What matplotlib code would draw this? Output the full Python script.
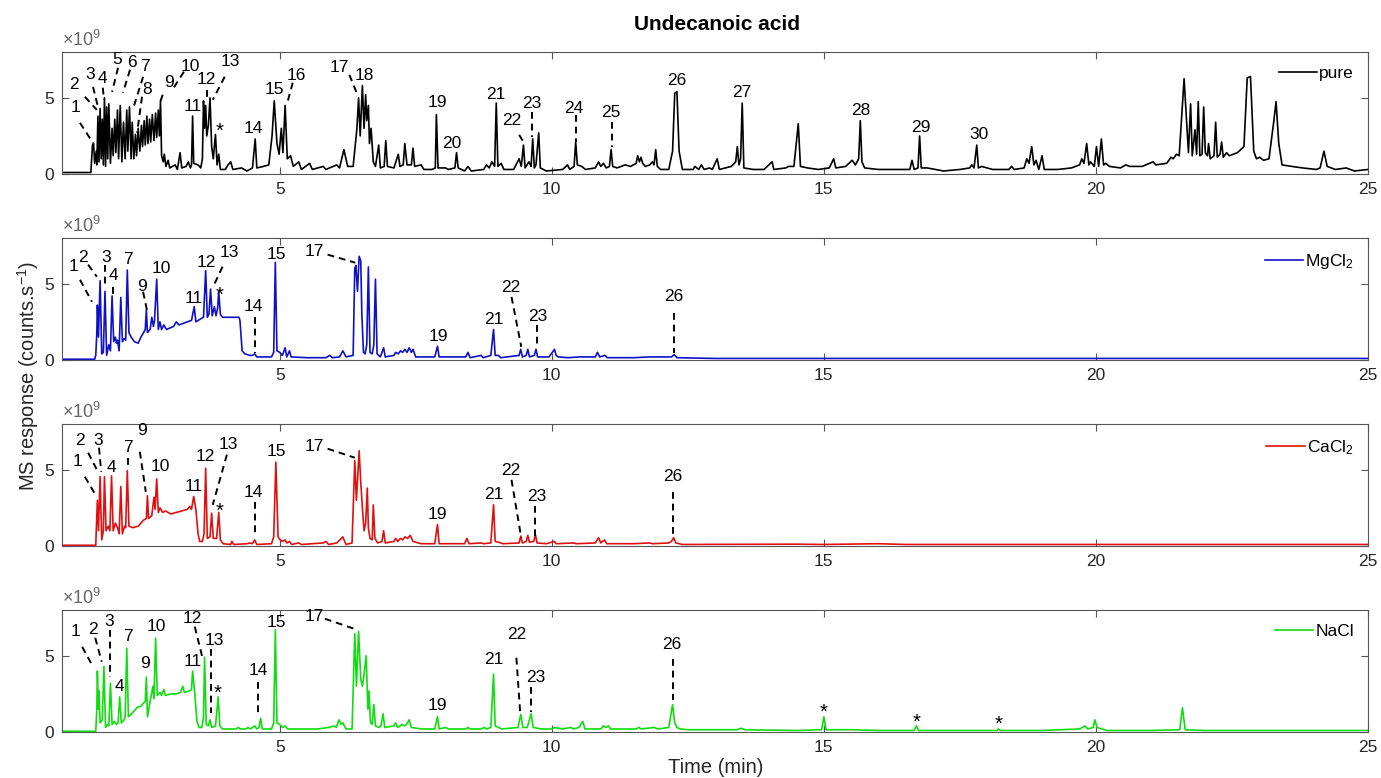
import numpy as np
import matplotlib
matplotlib.use("Agg")
import matplotlib.pyplot as plt

plt.rcParams['font.family'] = ['Liberation Sans', 'DejaVu Sans']
plt.rcParams['mathtext.fontset'] = 'custom'
plt.rcParams['mathtext.rm'] = 'Liberation Sans'
plt.rcParams['mathtext.it'] = 'Liberation Sans:italic'

# chromatogram traces, (time in min, response in 1e9 counts/s)
pure = [
    (1.00, 0.10), (1.53, 0.10), (1.56, 1.9), (1.58, 2.0), (1.60, 0.7), (1.63, 1.5), (1.64, 0.6),
    (1.66, 3.8), (1.68, 0.8), (1.70, 4.3), (1.72, 1.0), (1.74, 3.6), (1.76, 0.6), (1.78, 5.0),
    (1.80, 0.5), (1.82, 4.4), (1.84, 1.0), (1.86, 4.6), (1.89, 0.7), (1.92, 3.0), (1.94, 1.2),
    (1.97, 3.6), (1.99, 1.4), (2.02, 4.2), (2.04, 1.0), (2.07, 4.5), (2.10, 0.8), (2.13, 3.4),
    (2.16, 1.0), (2.19, 4.2), (2.21, 1.5), (2.24, 4.4), (2.27, 1.0), (2.29, 3.4), (2.32, 1.0),
    (2.35, 2.6), (2.37, 1.2), (2.40, 3.0), (2.43, 1.5), (2.46, 3.2), (2.48, 1.8), (2.51, 3.5),
    (2.53, 1.9), (2.56, 3.8), (2.58, 2.0), (2.61, 3.6), (2.63, 2.1), (2.66, 3.9), (2.69, 2.2),
    (2.72, 4.0), (2.74, 2.4), (2.77, 4.2), (2.79, 2.5), (2.81, 4.8), (2.83, 1.2), (2.86, 0.8),
    (2.88, 1.3), (2.91, 0.5), (2.95, 0.9), (2.98, 0.4), (3.08, 0.6), (3.12, 0.3), (3.17, 1.4),
    (3.20, 0.4), (3.28, 0.5), (3.32, 0.8), (3.36, 0.4), (3.38, 0.6), (3.40, 3.8), (3.42, 0.7),
    (3.50, 0.6), (3.55, 0.4), (3.58, 1.0), (3.60, 4.8), (3.62, 3.0), (3.64, 4.5), (3.66, 2.5),
    (3.69, 3.2), (3.72, 5.0), (3.75, 1.8), (3.78, 1.0), (3.82, 2.6), (3.85, 0.6), (3.88, 1.3),
    (3.91, 0.3), (4.00, 0.3), (4.05, 0.6), (4.10, 0.8), (4.14, 0.3), (4.30, 0.4), (4.40, 0.2),
    (4.50, 0.4), (4.55, 2.3), (4.58, 0.4), (4.70, 0.5), (4.80, 0.6), (4.86, 2.5), (4.90, 4.8),
    (4.95, 2.0), (4.99, 1.3), (5.03, 3.0), (5.06, 1.4), (5.10, 4.5), (5.14, 1.0), (5.20, 1.2),
    (5.25, 0.5), (5.35, 0.8), (5.40, 0.3), (5.55, 0.7), (5.60, 0.3), (5.80, 0.5), (5.85, 0.3),
    (6.05, 0.6), (6.10, 0.4), (6.18, 1.6), (6.25, 0.5), (6.35, 0.5), (6.42, 3.0), (6.45, 5.0),
    (6.48, 2.5), (6.52, 5.8), (6.55, 3.0), (6.58, 5.2), (6.60, 3.5), (6.63, 4.5), (6.65, 2.0),
    (6.68, 3.0), (6.72, 0.8), (6.76, 0.5), (6.82, 1.9), (6.85, 0.4), (6.92, 0.5), (6.95, 2.2),
    (6.98, 0.5), (7.10, 0.4), (7.18, 1.3), (7.21, 0.5), (7.27, 0.6), (7.30, 2.0), (7.34, 0.6),
    (7.42, 0.6), (7.45, 1.7), (7.48, 0.5), (7.60, 0.6), (7.65, 0.3), (7.80, 0.3), (7.86, 0.4),
    (7.88, 3.9), (7.91, 0.4), (8.05, 0.4), (8.10, 0.3), (8.22, 0.4), (8.25, 1.4), (8.28, 0.4),
    (8.40, 0.2), (8.46, 0.5), (8.52, 0.2), (8.75, 0.3), (8.80, 0.6), (8.85, 0.4), (8.90, 0.8),
    (8.95, 0.5), (8.98, 4.65), (9.01, 0.5), (9.07, 0.7), (9.12, 0.3), (9.30, 0.3), (9.40, 1.0),
    (9.44, 0.5), (9.48, 1.9), (9.51, 0.4), (9.58, 0.8), (9.62, 0.5), (9.65, 2.3), (9.68, 0.4),
    (9.71, 0.6), (9.76, 2.7), (9.79, 0.4), (9.90, 0.2), (10.20, 0.3), (10.29, 0.6), (10.33, 0.3),
    (10.41, 0.5), (10.44, 2.1), (10.47, 0.6), (10.55, 0.5), (10.62, 0.3), (10.80, 0.4), (10.86, 0.8),
    (10.90, 0.5), (10.95, 0.7), (11.00, 0.4), (11.06, 0.5), (11.09, 1.6), (11.12, 0.5), (11.20, 0.4),
    (11.35, 0.6), (11.45, 0.5), (11.55, 0.7), (11.58, 1.2), (11.61, 0.8), (11.64, 1.1), (11.67, 0.7),
    (11.72, 0.5), (11.80, 0.6), (11.85, 0.8), (11.88, 0.6), (11.91, 1.6), (11.94, 0.5), (12.00, 0.3),
    (12.15, 0.3), (12.22, 1.5), (12.26, 5.3), (12.30, 5.4), (12.34, 1.5), (12.40, 0.3), (12.60, 0.3),
    (12.63, 0.5), (12.70, 0.3), (12.75, 0.6), (12.80, 0.3), (12.90, 0.4), (12.95, 0.3), (13.04, 1.0),
    (13.08, 0.3), (13.30, 0.5), (13.38, 0.8), (13.41, 1.8), (13.44, 0.6), (13.47, 1.0), (13.50, 4.65),
    (13.53, 0.4), (13.70, 0.3), (13.90, 0.3), (14.05, 0.8), (14.08, 0.3), (14.30, 0.4), (14.35, 0.5),
    (14.45, 0.5), (14.53, 3.3), (14.57, 0.5), (14.70, 0.4), (14.90, 0.3), (15.10, 0.4), (15.18, 1.0),
    (15.22, 0.4), (15.40, 0.5), (15.52, 0.9), (15.58, 0.6), (15.64, 1.0), (15.67, 3.5), (15.70, 0.8),
    (15.75, 0.4), (16.00, 0.3), (16.30, 0.3), (16.58, 0.3), (16.62, 0.9), (16.66, 0.3), (16.73, 0.4),
    (16.76, 2.5), (16.79, 0.4), (16.90, 0.4), (17.20, 0.2), (17.50, 0.3), (17.68, 0.4), (17.72, 0.6),
    (17.76, 0.4), (17.81, 1.9), (17.84, 0.4), (17.90, 0.5), (18.10, 0.3), (18.40, 0.3), (18.45, 0.5),
    (18.50, 0.3), (18.68, 0.4), (18.73, 1.0), (18.77, 0.7), (18.82, 1.8), (18.86, 0.6), (18.90, 0.9),
    (18.95, 0.3), (19.01, 1.2), (19.05, 0.3), (19.30, 0.3), (19.55, 0.4), (19.70, 0.6), (19.74, 1.0),
    (19.78, 0.7), (19.83, 2.0), (19.87, 0.6), (19.90, 0.8), (19.97, 0.5), (20.01, 1.8), (20.05, 0.5),
    (20.10, 2.3), (20.14, 0.6), (20.18, 0.7), (20.25, 0.5), (20.45, 0.4), (20.55, 0.6), (20.62, 0.5),
    (20.70, 0.5), (20.85, 0.5), (21.05, 0.8), (21.10, 0.6), (21.30, 0.7), (21.38, 1.1), (21.42, 1.0),
    (21.48, 1.3), (21.53, 1.2), (21.62, 6.25), (21.70, 1.4), (21.74, 4.6), (21.77, 1.2), (21.82, 2.9),
    (21.85, 1.3), (21.88, 4.75), (21.91, 1.2), (21.95, 1.3), (21.98, 4.4), (22.01, 1.4), (22.05, 1.2),
    (22.07, 2.0), (22.10, 1.0), (22.17, 1.2), (22.20, 3.4), (22.23, 1.1), (22.28, 1.3), (22.31, 2.1),
    (22.34, 1.1), (22.40, 1.4), (22.45, 1.2), (22.60, 1.4), (22.72, 1.8), (22.78, 6.3), (22.84, 6.4),
    (22.90, 1.5), (22.95, 1.0), (23.01, 1.1), (23.08, 0.9), (23.18, 1.0), (23.27, 3.5), (23.31, 4.75),
    (23.36, 2.0), (23.42, 0.6), (23.60, 0.5), (23.80, 0.4), (24.05, 0.3), (24.12, 0.4), (24.19, 1.5),
    (24.25, 0.5), (24.40, 0.3), (24.60, 0.4), (24.75, 0.2), (25.00, 0.3),
]

mgcl2 = [
    (1.00, 0.05), (1.60, 0.05), (1.62, 0.3), (1.64, 1.8), (1.65, 3.6), (1.67, 1.5), (1.70, 5.2),
    (1.73, 0.4), (1.76, 0.5), (1.79, 4.5), (1.82, 0.3), (1.86, 1.0), (1.89, 0.6), (1.92, 4.2),
    (1.95, 1.2), (1.98, 1.5), (2.00, 1.1), (2.02, 1.3), (2.05, 0.6), (2.08, 4.1), (2.11, 1.2),
    (2.14, 1.4), (2.17, 1.3), (2.20, 5.9), (2.23, 1.8), (2.27, 1.5), (2.33, 1.2), (2.40, 1.1),
    (2.45, 1.5), (2.50, 1.8), (2.53, 2.0), (2.55, 3.3), (2.57, 1.8), (2.62, 2.0), (2.65, 2.8),
    (2.68, 2.2), (2.70, 2.6), (2.74, 5.3), (2.77, 2.0), (2.80, 2.5), (2.83, 2.0), (2.87, 2.3),
    (2.92, 2.0), (3.05, 2.2), (3.10, 2.5), (3.15, 2.3), (3.30, 2.5), (3.38, 2.6), (3.43, 3.5),
    (3.46, 2.5), (3.55, 2.7), (3.60, 2.8), (3.64, 5.85), (3.67, 2.8), (3.70, 3.0), (3.73, 4.65),
    (3.76, 2.9), (3.80, 3.5), (3.83, 2.9), (3.86, 3.4), (3.88, 4.5), (3.91, 3.0), (3.95, 2.8),
    (4.10, 2.8), (4.25, 2.8), (4.27, 2.6), (4.31, 0.6), (4.36, 0.4), (4.45, 0.3), (4.50, 0.3),
    (4.54, 0.4), (4.58, 0.2), (4.85, 0.2), (4.89, 0.5), (4.92, 6.4), (4.95, 0.6), (5.00, 0.5),
    (5.05, 0.3), (5.10, 0.8), (5.13, 0.2), (5.18, 0.6), (5.21, 0.2), (5.50, 0.15), (5.85, 0.15),
    (5.92, 0.3), (5.97, 0.15), (6.10, 0.2), (6.16, 0.6), (6.22, 0.2), (6.35, 0.3), (6.38, 6.0),
    (6.40, 6.2), (6.43, 4.5), (6.46, 6.8), (6.49, 6.5), (6.51, 3.0), (6.54, 0.5), (6.57, 0.4),
    (6.60, 1.0), (6.63, 6.1), (6.66, 0.5), (6.70, 0.4), (6.73, 1.0), (6.76, 5.3), (6.79, 0.4),
    (6.85, 0.2), (6.91, 0.8), (6.94, 0.2), (7.10, 0.3), (7.13, 0.5), (7.18, 0.4), (7.22, 0.6),
    (7.26, 0.5), (7.30, 0.7), (7.34, 0.5), (7.38, 0.8), (7.42, 0.5), (7.45, 0.7), (7.50, 0.2),
    (7.70, 0.2), (7.85, 0.2), (7.90, 0.9), (7.93, 0.2), (8.10, 0.2), (8.42, 0.2), (8.46, 0.5),
    (8.50, 0.15), (8.70, 0.3), (8.74, 0.15), (8.88, 0.3), (8.93, 2.0), (8.96, 0.3), (9.02, 0.3),
    (9.06, 0.15), (9.40, 0.3), (9.43, 0.7), (9.46, 0.2), (9.53, 0.3), (9.56, 0.7), (9.59, 0.2),
    (9.68, 0.3), (9.71, 0.7), (9.74, 0.2), (9.95, 0.2), (10.05, 0.7), (10.08, 0.3), (10.12, 0.2),
    (10.30, 0.15), (10.50, 0.2), (10.80, 0.2), (10.84, 0.5), (10.88, 0.2), (10.98, 0.3), (11.02, 0.15),
    (11.50, 0.15), (11.80, 0.2), (12.20, 0.2), (12.25, 0.35), (12.30, 0.15), (13.00, 0.1),
    (16.00, 0.1), (20.00, 0.1), (25.00, 0.1),
]

cacl2 = [
    (1.00, 0.05), (1.62, 0.05), (1.64, 2.0), (1.65, 3.0), (1.67, 1.0), (1.70, 4.55), (1.73, 0.4),
    (1.76, 1.0), (1.78, 4.55), (1.81, 1.0), (1.85, 1.3), (1.88, 1.0), (1.91, 4.6), (1.94, 1.0),
    (1.98, 1.5), (2.02, 1.2), (2.05, 0.8), (2.08, 3.9), (2.11, 0.8), (2.15, 1.3), (2.17, 1.2),
    (2.20, 4.95), (2.23, 1.3), (2.30, 1.2), (2.40, 1.3), (2.50, 1.7), (2.55, 1.8), (2.57, 3.3),
    (2.59, 1.8), (2.65, 2.0), (2.69, 3.2), (2.71, 2.4), (2.74, 4.4), (2.77, 2.2), (2.80, 2.5),
    (2.85, 2.2), (2.90, 2.3), (3.00, 2.1), (3.20, 2.3), (3.30, 2.4), (3.35, 2.6), (3.38, 2.4),
    (3.42, 3.25), (3.46, 2.4), (3.50, 0.8), (3.53, 0.3), (3.58, 0.3), (3.61, 0.8), (3.64, 5.1),
    (3.67, 0.5), (3.72, 0.6), (3.75, 2.15), (3.78, 0.5), (3.84, 0.5), (3.88, 2.2), (3.91, 0.4),
    (3.96, 0.15), (4.10, 0.1), (4.12, 0.3), (4.16, 0.1), (4.40, 0.15), (4.45, 0.2), (4.50, 0.15),
    (4.54, 0.4), (4.58, 0.1), (4.85, 0.15), (4.89, 0.6), (4.93, 5.5), (4.97, 0.6), (5.01, 0.4),
    (5.05, 0.3), (5.10, 0.4), (5.13, 0.2), (5.18, 0.3), (5.22, 0.1), (5.35, 0.2), (5.40, 0.1),
    (5.80, 0.2), (5.85, 0.3), (5.90, 0.1), (6.05, 0.2), (6.16, 0.6), (6.22, 0.1), (6.33, 0.2),
    (6.38, 5.6), (6.41, 3.0), (6.46, 6.25), (6.49, 4.2), (6.52, 2.5), (6.55, 1.0), (6.58, 1.5),
    (6.61, 3.8), (6.63, 1.2), (6.66, 0.5), (6.70, 0.4), (6.72, 2.7), (6.75, 0.5), (6.80, 0.2),
    (6.88, 0.3), (6.91, 1.0), (6.94, 0.2), (7.10, 0.3), (7.13, 0.5), (7.17, 0.3), (7.22, 0.5),
    (7.26, 0.4), (7.30, 0.6), (7.35, 0.5), (7.40, 0.7), (7.45, 0.3), (7.60, 0.15), (7.85, 0.15),
    (7.90, 1.4), (7.93, 0.15), (8.10, 0.15), (8.40, 0.15), (8.44, 0.5), (8.48, 0.15), (8.70, 0.2),
    (8.75, 0.15), (8.88, 0.2), (8.93, 2.7), (8.96, 0.3), (9.02, 0.25), (9.10, 0.15), (9.40, 0.2),
    (9.43, 0.65), (9.46, 0.2), (9.53, 0.3), (9.56, 0.7), (9.59, 0.25), (9.67, 0.3), (9.70, 0.75),
    (9.73, 0.2), (9.90, 0.15), (10.05, 0.3), (10.08, 0.15), (10.40, 0.2), (10.45, 0.15), (10.80, 0.2),
    (10.86, 0.55), (10.90, 0.2), (10.97, 0.4), (11.01, 0.15), (11.50, 0.15), (11.80, 0.2),
    (11.85, 0.15), (12.15, 0.2), (12.20, 0.3), (12.24, 0.55), (12.28, 0.2), (12.40, 0.1),
    (14.50, 0.12), (15.00, 0.1), (16.00, 0.15), (16.50, 0.1), (20.00, 0.1), (25.00, 0.1),
]

nacl = [
    (1.00, 0.05), (1.62, 0.05), (1.64, 1.5), (1.65, 4.0), (1.67, 1.5), (1.68, 2.7), (1.70, 0.6),
    (1.74, 0.8), (1.77, 4.3), (1.80, 0.3), (1.84, 0.5), (1.86, 0.4), (1.89, 3.2), (1.92, 0.5),
    (1.96, 0.7), (2.00, 0.5), (2.03, 0.6), (2.06, 2.3), (2.09, 0.6), (2.14, 0.8), (2.16, 1.0),
    (2.19, 5.5), (2.22, 1.0), (2.28, 1.2), (2.38, 1.6), (2.45, 1.7), (2.50, 1.9), (2.53, 2.0),
    (2.55, 3.6), (2.57, 1.0), (2.62, 2.0), (2.67, 3.0), (2.69, 2.2), (2.72, 6.15), (2.75, 2.4),
    (2.80, 2.6), (2.83, 2.4), (2.87, 2.8), (2.90, 2.4), (3.00, 2.5), (3.10, 2.5), (3.18, 2.6),
    (3.22, 3.0), (3.25, 2.6), (3.35, 2.7), (3.38, 2.8), (3.40, 4.0), (3.44, 2.5), (3.48, 0.7),
    (3.52, 0.3), (3.57, 0.3), (3.60, 1.0), (3.62, 4.9), (3.65, 0.5), (3.69, 0.4), (3.72, 0.8),
    (3.75, 0.3), (3.82, 0.4), (3.87, 2.3), (3.90, 0.4), (3.95, 0.2), (4.20, 0.2), (4.24, 0.3),
    (4.28, 0.2), (4.38, 0.2), (4.42, 0.3), (4.46, 0.2), (4.50, 0.3), (4.54, 0.4), (4.58, 0.2),
    (4.62, 0.3), (4.65, 0.9), (4.68, 0.2), (4.85, 0.2), (4.89, 0.6), (4.92, 6.7), (4.95, 0.6),
    (5.00, 0.5), (5.05, 0.3), (5.10, 0.4), (5.15, 0.2), (5.40, 0.2), (5.70, 0.2), (5.90, 0.3),
    (6.00, 0.4), (6.04, 0.3), (6.09, 0.8), (6.13, 0.5), (6.16, 0.6), (6.22, 0.2), (6.33, 0.2),
    (6.38, 6.45), (6.41, 3.0), (6.45, 6.6), (6.49, 3.5), (6.52, 3.0), (6.55, 3.8), (6.59, 5.0),
    (6.62, 1.5), (6.64, 2.7), (6.67, 0.6), (6.70, 0.5), (6.73, 1.8), (6.76, 0.4), (6.82, 0.3),
    (6.86, 0.4), (6.90, 1.2), (6.93, 0.3), (7.10, 0.4), (7.13, 0.6), (7.17, 0.3), (7.25, 0.5),
    (7.30, 0.4), (7.35, 0.6), (7.38, 0.8), (7.42, 0.3), (7.60, 0.2), (7.85, 0.2), (7.90, 1.0),
    (7.93, 0.2), (8.05, 0.3), (8.10, 0.2), (8.42, 0.2), (8.46, 0.3), (8.50, 0.2), (8.70, 0.2),
    (8.76, 0.3), (8.80, 0.2), (8.88, 0.3), (8.93, 3.8), (8.96, 0.4), (9.02, 0.3), (9.08, 0.2),
    (9.38, 0.3), (9.43, 1.15), (9.47, 0.3), (9.55, 0.3), (9.62, 1.2), (9.66, 0.3), (9.80, 0.2),
    (10.00, 0.2), (10.05, 0.3), (10.20, 0.2), (10.35, 0.3), (10.40, 0.2), (10.50, 0.3), (10.57, 0.7),
    (10.61, 0.2), (10.90, 0.2), (10.95, 0.4), (11.00, 0.3), (11.04, 0.4), (11.08, 0.2), (11.30, 0.2),
    (11.55, 0.2), (11.60, 0.3), (11.65, 0.2), (11.88, 0.3), (11.95, 0.2), (12.15, 0.3), (12.22, 1.8),
    (12.26, 0.6), (12.30, 0.3), (12.36, 0.2), (12.50, 0.15), (13.40, 0.15), (13.48, 0.25),
    (13.55, 0.15), (14.50, 0.1), (14.96, 0.15), (15.00, 1.0), (15.04, 0.15), (15.50, 0.15),
    (16.00, 0.1), (16.66, 0.1), (16.70, 0.4), (16.74, 0.1), (17.50, 0.1), (18.18, 0.1), (18.21, 0.2),
    (18.24, 0.1), (19.00, 0.1), (19.70, 0.2), (19.80, 0.4), (19.85, 0.2), (19.95, 0.3), (19.98, 0.8),
    (20.02, 0.3), (20.10, 0.2), (20.20, 0.1), (21.00, 0.1), (21.54, 0.15), (21.59, 1.6),
    (21.64, 0.15), (22.00, 0.1), (25.00, 0.1),
]

# peak labels (text, time, height) and dashed leader lines
pure_labels = [
    ("1", 1.24, 4.34), ("2", 1.22, 5.86), ("3", 1.51, 6.51), ("4", 1.75, 6.25), ("5", 2.01, 7.5),
    ("6", 2.28, 7.3), ("7", 2.52, 7.04), ("8", 2.56, 5.53), ("9", 2.96, 5.99), ("10", 3.35, 7.04),
    ("11", 3.40, 4.41), ("12", 3.66, 6.18), ("13", 4.10, 7.37), ("*", 3.90, 3.16), ("14", 4.52, 2.96),
    ("15", 4.91, 5.53), ("16", 5.31, 6.45), ("17", 6.10, 6.97), ("18", 6.56, 6.45), ("19", 7.90, 4.67),
    ("20", 8.16, 1.97), ("21", 8.98, 5.2), ("22", 9.26, 3.49), ("23", 9.64, 4.6), ("24", 10.41, 4.28),
    ("25", 11.09, 4.01), ("26", 12.30, 6.12), ("27", 13.50, 5.33), ("28", 15.68, 4.14),
    ("29", 16.78, 3.03), ("30", 17.86, 2.57),
]
pure_dashes = [
    ((1.33, 3.36), (1.57, 2.04)), ((1.42, 5.07), (1.64, 4.21)), ((1.57, 5.72), (1.66, 4.41)),
    ((1.75, 5.66), (1.77, 4.87)), ((2.03, 6.97), (1.92, 5.39)), ((2.25, 6.84), (2.12, 5.33)),
    ((2.49, 6.38), (2.30, 4.21)), ((2.47, 5.07), (2.38, 2.70)), ((3.24, 6.71), (3.04, 5.59)),
    ((2.85, 5.2), (2.80, 4.67)), ((3.66, 5.53), (3.66, 4.87)), ((3.99, 6.38), (3.77, 4.87)),
    ((5.24, 5.99), (5.13, 4.54)), ((6.28, 6.51), (6.43, 5.2)), ((9.40, 2.57), (9.48, 2.11)),
    ((9.64, 4.08), (9.64, 2.43)), ((10.45, 3.88), (10.45, 2.11)), ((11.11, 3.42), (11.11, 1.78)),
]

mgcl2_labels = [
    ("1", 1.22, 6.12), ("2", 1.39, 6.71), ("3", 1.81, 6.71), ("4", 1.94, 5.53), ("7", 2.21, 6.58),
    ("9", 2.47, 4.80), ("10", 2.82, 5.99), ("11", 3.42, 4.01), ("12", 3.66, 6.38), ("13", 4.08, 7.04),
    ("*", 3.90, 4.6), ("14", 4.52, 3.49), ("15", 4.94, 6.91), ("17", 5.64, 7.1), ("19", 7.92, 1.51),
    ("21", 8.93, 2.63), ("22", 9.24, 4.74), ("23", 9.75, 2.83), ("26", 12.25, 4.14),
]
mgcl2_dashes = [
    ((1.33, 5.26), (1.55, 3.82)), ((1.48, 6.25), (1.64, 5.46)), ((1.79, 6.25), (1.79, 4.74)),
    ((1.94, 4.80), (1.94, 4.21)), ((2.49, 4.47), (2.56, 3.29)), ((3.95, 6.12), (3.77, 4.74)),
    ((4.54, 2.83), (4.54, 0.46)), ((5.88, 6.91), (6.39, 6.38)), ((9.26, 4.14), (9.44, 0.86)),
    ((9.72, 2.30), (9.72, 0.79)), ((12.25, 3.09), (12.25, 0.46)),
]

cacl2_labels = [
    ("1", 1.29, 5.53), ("2", 1.33, 6.91), ("3", 1.66, 6.91), ("4", 1.90, 5.13), ("7", 2.21, 6.45),
    ("9", 2.47, 7.57), ("10", 2.80, 5.2), ("11", 3.42, 3.88), ("12", 3.64, 5.86), ("13", 4.06, 6.64),
    ("*", 3.90, 2.63), ("14", 4.52, 3.49), ("15", 4.94, 6.18), ("17", 5.64, 6.51), ("19", 7.90, 2.04),
    ("21", 8.93, 3.36), ("22", 9.24, 4.93), ("23", 9.72, 3.22), ("26", 12.23, 4.54),
]
cacl2_dashes = [
    ((1.42, 4.54), (1.64, 3.22)), ((1.48, 6.12), (1.66, 4.87)), ((1.68, 6.45), (1.72, 4.87)),
    ((2.21, 5.79), (2.21, 5.13)), ((2.43, 6.18), (2.54, 3.55)), ((4.03, 5.99), (3.77, 2.70)),
    ((4.54, 2.89), (4.54, 0.59)), ((5.88, 6.38), (6.38, 5.79)), ((9.26, 4.34), (9.44, 0.53)),
    ((9.70, 2.63), (9.70, 0.59)), ((12.23, 3.55), (12.23, 0.59)),
]

nacl_labels = [
    ("1", 1.24, 6.58), ("2", 1.57, 6.71), ("3", 1.86, 7.24), ("4", 2.06, 2.96), ("7", 2.21, 6.25),
    ("9", 2.52, 4.47), ("10", 2.74, 6.91), ("11", 3.40, 4.61), ("12", 3.39, 7.43), ("13", 3.79, 5.99),
    ("*", 3.86, 2.89), ("14", 4.60, 4.01), ("15", 4.94, 7.17), ("17", 5.64, 7.57), ("19", 7.90, 1.71),
    ("21", 8.94, 4.74), ("22", 9.35, 6.38), ("23", 9.70, 3.55), ("26", 12.21, 5.72),
    ("*", 15.0, 1.64), ("*", 16.71, 0.99), ("*", 18.21, 0.86),
]
nacl_dashes = [
    ((1.37, 5.59), (1.57, 4.28)), ((1.61, 6.18), (1.73, 4.61)), ((1.88, 6.71), (1.88, 3.62)),
    ((3.44, 6.91), (3.59, 4.74)), ((3.73, 5.46), (3.73, 1.25)), ((4.61, 3.29), (4.61, 1.12)),
    ((5.83, 7.43), (6.36, 6.78)), ((9.35, 4.87), (9.42, 1.25)), ((9.62, 2.96), (9.62, 1.32)),
    ((12.23, 4.80), (12.23, 2.11)),
]

series_names = ["pure", "MgCl$_2$", "CaCl$_2$", "NaCl"]
series_colors = ["#000000", "#1010c8", "#e01010", "#10dd10"]
traces = [pure, mgcl2, cacl2, nacl]
labels = [pure_labels, mgcl2_labels, cacl2_labels, nacl_labels]
dashes = [pure_dashes, mgcl2_dashes, cacl2_dashes, nacl_dashes]

fig = plt.figure(figsize=(13.81, 7.78), dpi=100)
bottoms = [0.7763, 0.5373, 0.2982, 0.0591]
fs = 12.5
axcol = "#555555"

for i in range(4):
    ax = fig.add_axes([0.0449, bottoms[i], 0.9457, 0.1568])
    t, y = np.array(traces[i]).T
    ax.plot(t, y, color=series_colors[i], lw=1.2, label=series_names[i])
    for (p1, p2) in dashes[i]:
        ax.plot([p1[0], p2[0]], [p1[1], p2[1]], color="k", lw=1.4, ls=(0, (3.5, 2.5)))
    for (txt, tx, ty) in labels[i]:
        if txt == "*":
            ax.text(tx, ty - 0.35, txt, ha="center", va="center", fontsize=fs + 2, color="k")
        else:
            ax.text(tx, ty, txt, ha="center", va="center", fontsize=fs, color="k")
    ax.set_xlim(1, 25)
    ax.set_ylim(0, 8)
    ax.set_xticks([5, 10, 15, 20, 25])
    ax.set_yticks([0, 5])
    ax.tick_params(direction="in", length=5, width=0.8, top=True, right=True,
                   labelsize=fs, colors="#262626", pad=6)
    ax.tick_params(axis="both", color=axcol)
    for s in ax.spines.values():
        s.set_color(axcol)
        s.set_linewidth(0.8)
    ax.text(0.0, 1.02, "\u00d710$^{9}$", transform=ax.transAxes, ha="left", va="bottom",
            fontsize=13, color="#666666")
    ax.legend(loc="upper right", frameon=False, fontsize=fs, handlelength=2.2,
              handletextpad=0.15, borderaxespad=0.4, bbox_to_anchor=(1.0, 1.0))

fig.text(0.519, 0.968, "Undecanoic acid", ha="center", va="center", fontsize=15, fontweight="bold")
fig.text(0.518, 0.013, "Time (min)", ha="center", va="center", fontsize=14.5, color="#262626")
fig.text(0.0205, 0.517, "MS response (counts.s$^{-1}$)", ha="center", va="center", rotation=90,
         fontsize=14.5, color="#262626")

fig.savefig("out.png", dpi=100)
